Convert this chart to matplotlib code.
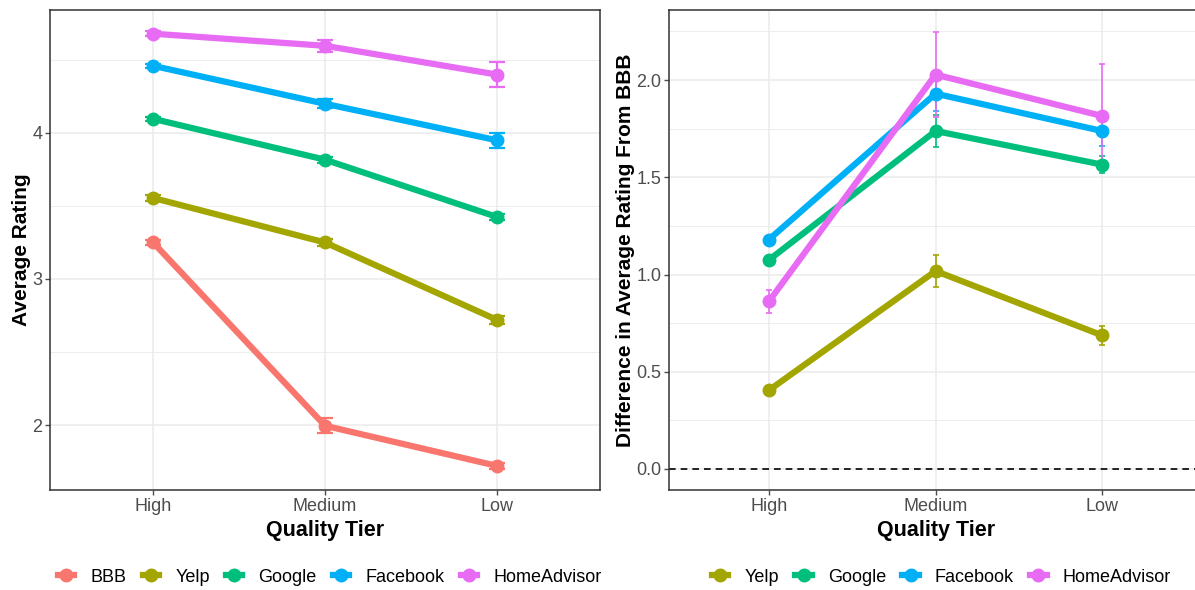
import numpy as np
import matplotlib.pyplot as plt
from matplotlib.lines import Line2D

tiers = ["High", "Medium", "Low"]
platforms = ["BBB", "Yelp", "Google", "Facebook", "HomeAdvisor"]
colors = ["#F8766D", "#A3A500", "#00BF7D", "#00B0F6", "#E76BF3"]

# average rating per tier
avg_bbb = [3.25, 1.995, 1.72]
avg_yelp = [3.555, 3.25, 2.72]
avg_google = [4.097, 3.817, 3.425]
avg_facebook = [4.46, 4.20, 3.95]
avg_homeadvisor = [4.68, 4.597, 4.40]
err_bbb = [0.02, 0.05, 0.02]
err_yelp = [0.02, 0.025, 0.025]
err_google = [0.015, 0.02, 0.02]
err_facebook = [0.015, 0.03, 0.05]
err_homeadvisor = [0.015, 0.04, 0.085]

# difference from BBB
diff_yelp = [0.405, 1.018, 0.687]
diff_google = [1.075, 1.738, 1.565]
diff_facebook = [1.18, 1.93, 1.738]
diff_homeadvisor = [0.862, 2.028, 1.815]
derr_yelp = [0.02, 0.08, 0.05]
derr_google = [0.015, 0.08, 0.045]
derr_facebook = [0.02, 0.09, 0.075]
derr_homeadvisor = [0.06, 0.22, 0.265]

avgs = [avg_bbb, avg_yelp, avg_google, avg_facebook, avg_homeadvisor]
errs = [err_bbb, err_yelp, err_google, err_facebook, err_homeadvisor]
diffs = [diff_yelp, diff_google, diff_facebook, diff_homeadvisor]
derrs = [derr_yelp, derr_google, derr_facebook, derr_homeadvisor]

plt.rcParams['font.family'] = ['Liberation Sans', 'DejaVu Sans']

fig = plt.figure(figsize=(11.95, 5.9), dpi=100)
ax1 = fig.add_axes([0.0418, 0.1695, 0.4604, 0.8135])
ax2 = fig.add_axes([0.5598, 0.1695, 0.4462, 0.8135])

x = np.arange(1, 4)


def style(ax):
    ax.set_facecolor("white")
    ax.grid(True, which="major", color="#EBEBEB", lw=1.1)
    ax.grid(True, which="minor", axis="y", color="#EBEBEB", lw=0.6)
    ax.set_axisbelow(True)
    for s in ax.spines.values():
        s.set_color("#333333")
        s.set_linewidth(1.1)
    ax.set_xticks(x)
    ax.set_xticklabels(tiers)
    ax.set_xlim(0.4, 3.6)
    ax.tick_params(axis="both", labelsize=13, colors="#4D4D4D", length=3.5,
                   width=1, pad=2)
    ax.tick_params(axis="both", which="minor", length=0)
    ax.set_xlabel("Quality Tier", fontsize=15.5, fontweight="bold", labelpad=4)


for vals, e, c in zip(avgs, errs, colors):
    ax1.errorbar(x, vals, yerr=e, color=c, lw=4.5, marker="o", ms=9,
                 elinewidth=1.6, capsize=6, capthick=1.6)
style(ax1)
ax1.set_ylim(1.555, 4.842)
ax1.set_yticks([2, 3, 4])
ax1.set_yticks([2.5, 3.5, 4.5], minor=True)
ax1.set_ylabel("Average Rating", fontsize=15, fontweight="bold", labelpad=1)

for vals, e, c in zip(diffs, derrs, colors[1:]):
    ax2.errorbar(x, vals, yerr=e, color=c, lw=4.5, marker="o", ms=9,
                 elinewidth=1.2, capsize=2.5, capthick=1.2)
ax2.axhline(0, color="black", lw=1.2, ls=(0, (4, 3)))
style(ax2)
ax2.set_ylim(-0.108, 2.36)
ax2.set_yticks([0.0, 0.5, 1.0, 1.5, 2.0])
ax2.set_yticklabels(["0.0", "0.5", "1.0", "1.5", "2.0"])
ax2.set_yticks([0.25, 0.75, 1.25, 1.75, 2.25], minor=True)
ax2.set_ylabel("Difference in Average Rating From BBB", fontsize=15,
               fontweight="bold", labelpad=1)


def handles(names, cols):
    return [Line2D([0], [0], color=c, lw=4.5, marker="o", ms=9, label=n)
            for n, c in zip(names, cols)]


fig.legend(handles=handles(platforms, colors), loc="center", ncol=5,
           bbox_to_anchor=(0.276, 0.022), frameon=False, fontsize=13,
           handlelength=0.9, columnspacing=0.9, handletextpad=0.9)
fig.legend(handles=handles(platforms[1:], colors[1:]), loc="center", ncol=4,
           bbox_to_anchor=(0.788, 0.022), frameon=False, fontsize=13,
           handlelength=0.9, columnspacing=0.9, handletextpad=0.9)

fig.savefig("out.png", dpi=100)
